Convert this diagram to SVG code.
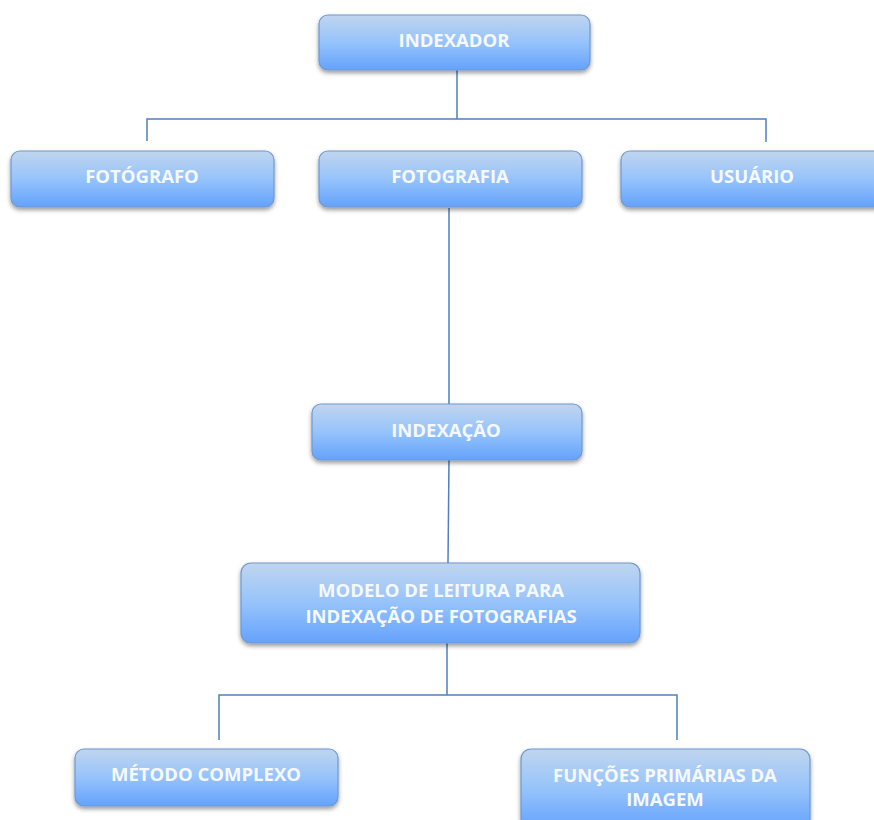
<svg xmlns="http://www.w3.org/2000/svg" width="874" height="820" viewBox="0 0 874 820">
<defs>
<linearGradient id="g" x1="0" y1="0" x2="0" y2="1">
<stop offset="0" stop-color="#c0d5ee"/>
<stop offset="0.5" stop-color="#96c3fb"/>
<stop offset="1" stop-color="#64a2fc"/>
</linearGradient>
<filter id="sh" x="-10%" y="-20%" width="120%" height="150%">
<feDropShadow dx="0" dy="2.5" stdDeviation="2" flood-color="#000" flood-opacity="0.4"/>
</filter>
</defs>
<style>
.box{fill:url(#g);stroke:#6f98cf;stroke-width:1.2;filter:url(#sh)}
.t{font-family:"Open Sans","Liberation Sans",sans-serif;font-weight:bold;font-size:18.5px;fill:#f6f9ff;text-anchor:middle}
.c{fill:none;stroke:#4f7fbd;stroke-width:1.5}
</style>
<rect width="874" height="820" fill="#ffffff"/>
<g id="connectors">
<path class="c" d="M457 70 V119 M147 141 V119 H766 V142"/>
<path class="c" d="M449 208 V404"/>
<path class="c" d="M449 460 L448 563"/>
<path class="c" d="M447 643 V695 M219 740 V695 H677 V740"/>
</g>
<g id="indexador"><rect class="box" x="319" y="15" width="271" height="55" rx="9"/><text class="t" x="454" y="47">INDEXADOR</text></g>
<g id="fotografo"><rect class="box" x="11" y="151" width="263" height="56" rx="9"/><text class="t" x="142" y="183">FOTÓGRAFO</text></g>
<g id="fotografia"><rect class="box" x="319" y="151" width="263" height="56" rx="9"/><text class="t" x="450" y="183">FOTOGRAFIA</text></g>
<g id="usuario"><rect class="box" x="621" y="151" width="263" height="56" rx="9"/><text class="t" x="752" y="183">USUÁRIO</text></g>
<g id="indexacao"><rect class="box" x="312" y="404" width="270" height="56" rx="9"/><text class="t" x="446" y="437">INDEXAÇÃO</text></g>
<g id="modelo"><rect class="box" x="241" y="563" width="399" height="80" rx="10"/><text class="t" x="441" y="597">MODELO DE LEITURA PARA</text><text class="t" x="441" y="623">INDEXAÇÃO DE FOTOGRAFIAS</text></g>
<g id="metodo"><rect class="box" x="75" y="749" width="263" height="57" rx="9"/><text class="t" x="206" y="781">MÉTODO COMPLEXO</text></g>
<g id="funcoes"><rect class="box" x="521" y="749" width="289" height="80" rx="10"/><text class="t" x="665" y="782">FUNÇÕES PRIMÁRIAS DA</text><text class="t" x="665" y="806">IMAGEM</text></g>
</svg>
